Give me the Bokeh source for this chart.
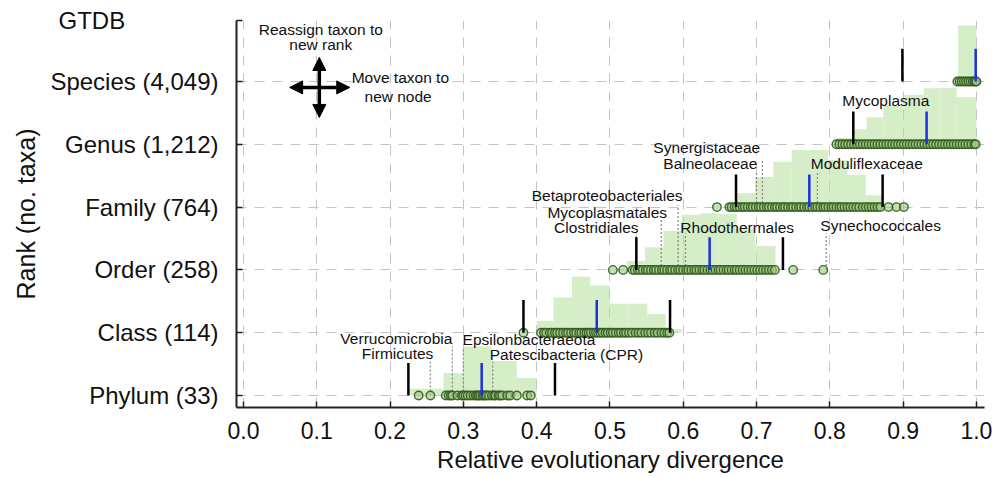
from bokeh.plotting import figure
from bokeh.models import (Range1d, FixedTicker, PrintfTickFormatter, Arrow,
                          NormalHead, ColumnDataSource)
from bokeh.core.properties import value
from bokeh.embed import file_html
from bokeh.resources import INLINE

FONT = "Liberation Sans"

# ---------------- data ----------------
rank_labels = ["Phylum (33)", "Class (114)", "Order (258)", "Family (764)",
               "Genus (1,212)", "Species (4,049)"]
rank_pos = [0, 1, 2, 3, 4, 5]
x_ticks = [0.0, 0.1, 0.2, 0.3, 0.4, 0.5, 0.6, 0.7, 0.8, 0.9, 1.0]
panel_title = "GTDB"

# histogram bin edges and relative heights (fraction of row spacing)
phylum_edges = [0.225, 0.273, 0.300, 0.338, 0.373, 0.400]
phylum_heights = [0.11, 0.36, 0.78, 0.55, 0.28]
class_edges = [0.400, 0.423, 0.448, 0.473, 0.500, 0.525, 0.551, 0.576, 0.598]
class_heights = [0.19, 0.56, 0.89, 0.75, 0.46, 0.46, 0.30, 0.06]
order_edges = [0.523, 0.548, 0.573, 0.598, 0.623, 0.648, 0.673, 0.698, 0.726]
order_heights = [0.14, 0.36, 0.62, 0.88, 0.90, 0.89, 0.65, 0.38]
family_edges = [0.673, 0.698, 0.723, 0.748, 0.773, 0.798, 0.824, 0.849, 0.873]
family_heights = [0.22, 0.48, 0.72, 0.91, 0.91, 0.75, 0.51, 0.19]
genus_edges = [0.808, 0.832, 0.850, 0.873, 0.900, 0.928, 0.951, 0.973, 1.000]
genus_heights = [0.10, 0.24, 0.43, 0.62, 0.79, 0.89, 0.90, 0.75]
species_edges = [0.975, 1.000]
species_heights = [0.89]

# RED values of individual taxa (representative)
phylum_red = [0.239, 0.255, 0.276, 0.280, 0.283, 0.285, 0.292, 0.298, 0.300, 0.303,
              0.306, 0.310, 0.314, 0.317, 0.319, 0.321, 0.323, 0.326, 0.328, 0.330,
              0.332, 0.335, 0.339, 0.342, 0.344, 0.348, 0.350, 0.353, 0.360, 0.364,
              0.373, 0.387, 0.392]
class_red = [0.382, 0.406, 0.410, 0.413, 0.418, 0.421, 0.425, 0.428, 0.432, 0.436,
             0.440, 0.443, 0.447, 0.451, 0.454, 0.458, 0.461, 0.465, 0.468, 0.471,
             0.474, 0.478, 0.481, 0.484, 0.487, 0.490, 0.494, 0.497, 0.501, 0.504,
             0.508, 0.512, 0.515, 0.519, 0.522, 0.526, 0.530, 0.535, 0.539, 0.543,
             0.548, 0.552, 0.556, 0.561, 0.565, 0.570, 0.574, 0.578, 0.581]
order_red = [0.504, 0.518, 0.531, 0.534, 0.538, 0.541, 0.545, 0.549, 0.552, 0.556,
             0.560, 0.563, 0.567, 0.571, 0.574, 0.578, 0.582, 0.585, 0.589, 0.593,
             0.596, 0.600, 0.604, 0.607, 0.611, 0.615, 0.618, 0.622, 0.626, 0.629,
             0.633, 0.637, 0.640, 0.644, 0.648, 0.651, 0.655, 0.659, 0.662, 0.666,
             0.670, 0.673, 0.677, 0.681, 0.685, 0.689, 0.693, 0.697, 0.701, 0.705,
             0.709, 0.713, 0.717, 0.721, 0.725, 0.750, 0.791]
family_red = [0.646, 0.663, 0.666, 0.670, 0.673, 0.677, 0.681, 0.684, 0.688, 0.692,
              0.695, 0.699, 0.703, 0.706, 0.710, 0.714, 0.717, 0.721, 0.725, 0.728,
              0.732, 0.736, 0.739, 0.743, 0.747, 0.750, 0.754, 0.758, 0.761, 0.765,
              0.769, 0.772, 0.776, 0.780, 0.783, 0.787, 0.791, 0.794, 0.798, 0.802,
              0.805, 0.809, 0.813, 0.816, 0.820, 0.824, 0.828, 0.832, 0.836, 0.840,
              0.845, 0.849, 0.853, 0.857, 0.861, 0.865, 0.869, 0.880, 0.891, 0.901]
genus_red = [0.809, 0.813, 0.817, 0.821, 0.825, 0.829, 0.833, 0.837, 0.841, 0.845,
             0.849, 0.853, 0.857, 0.861, 0.865, 0.869, 0.873, 0.877, 0.881, 0.885,
             0.889, 0.893, 0.897, 0.901, 0.905, 0.909, 0.913, 0.917, 0.921, 0.925,
             0.929, 0.933, 0.937, 0.941, 0.945, 0.949, 0.953, 0.957, 0.961, 0.965,
             0.969, 0.973, 0.977, 0.981, 0.985, 0.989, 0.993, 0.997, 0.999]
species_red = [0.974, 0.977, 0.980, 0.983, 0.986, 0.989, 0.992, 0.995, 0.997, 0.999, 1.0]

median_red = [0.325, 0.482, 0.636, 0.772, 0.932, 0.999]
lower_red = [0.225, 0.382, 0.536, 0.672, 0.832, 0.899]
upper_red = [0.425, 0.582, 0.736, 0.872, 1.032, 1.099]

# highlighted taxa
taxa_names = ["Verrucomicrobia", "Firmicutes", "Epsilonbacteraeota", "Patescibacteria (CPR)",
              "Betaproteobacteriales", "Mycoplasmatales", "Clostridiales", "Rhodothermales",
              "Synechococcales", "Synergistaceae", "Balneolaceae", "Moduliflexaceae",
              "Mycoplasma"]
taxa_rank = [0, 0, 0, 0, 2, 2, 2, 2, 2, 3, 3, 3, 4]
taxa_red = [0.285, 0.255, 0.300, 0.340, 0.593, 0.570, 0.536, 0.603, 0.795,
            0.708, 0.700, 0.783, None]

# ---------------- layout (positions of annotation texts) ----------------
label_x = [0.285, 0.259, 0.299, 0.336, 0.599, 0.578, 0.539, 0.596, 0.787,
           0.705, 0.701, 0.774, 0.817]
label_y = [0.905, 0.665, 0.895, 0.650, 3.185, 2.915, 2.675, 2.675, 2.705,
           3.945, 3.690, 3.690, 4.695]
label_align = ["right", "right", "left", "left", "right", "right", "right", "left",
               "left", "right", "right", "left", "left"]
line_top = [0.78, 0.54, 0.76, 0.53, 3.03, 2.83, 2.58, 2.58, 2.58, 3.77, 3.55, 3.55, None]
Y_TOP = 5.97
TITLE_POS = 5.965

# ---------------- figure ----------------
p = figure(width=998, height=477, output_backend="svg", toolbar_location=None,
           x_range=Range1d(-0.0095, 1.011), y_range=Range1d(-0.19, Y_TOP),
           min_border_left=236, min_border_right=14, min_border_top=20,
           min_border_bottom=70)
p.outline_line_color = None
p.background_fill_color = "white"

# grids
p.xgrid.grid_line_color = "#c4c4c4"
p.xgrid.grid_line_dash = "10 8"
p.xgrid.grid_line_width = 1
p.ygrid.ticker = FixedTicker(ticks=rank_pos)
p.ygrid.grid_line_color = "#c4c4c4"
p.ygrid.grid_line_dash = "10 8"
p.ygrid.grid_line_width = 1

# axes
p.xaxis.ticker = FixedTicker(ticks=x_ticks)
p.xaxis.formatter = PrintfTickFormatter(format="%.1f")
p.yaxis.ticker = FixedTicker(ticks=rank_pos + [TITLE_POS])
overrides = {k: lab for k, lab in zip(rank_pos, rank_labels)}
overrides[TITLE_POS] = panel_title + "\u00a0" * 14
p.yaxis.major_label_overrides = overrides
for ax in (p.xaxis, p.yaxis):
    ax.axis_line_width = 2
    ax.axis_line_color = "#222222"
    ax.major_tick_in = 6
    ax.major_tick_out = 0
    ax.major_tick_line_width = 1.5
    ax.major_tick_line_color = "#222222"
    ax.minor_tick_line_color = None
    ax.major_label_text_font = FONT
    ax.axis_label_text_font = FONT
    ax.axis_label_text_font_style = "normal"
    ax.major_label_text_color = "#111111"
    ax.axis_label_text_color = "#111111"
p.xaxis.major_label_text_font_size = "23px"
p.yaxis.major_label_text_font_size = "24px"
p.xaxis.axis_label_text_font_size = "24px"
p.yaxis.axis_label_text_font_size = "25px"
p.xaxis.major_label_standoff = 14
p.yaxis.major_label_standoff = 18
p.xaxis.axis_label = "Relative evolutionary divergence"
p.yaxis.axis_label = "Rank (no. taxa)"
p.xaxis.axis_label_standoff = 4
p.yaxis.axis_label_standoff = 7

# histograms
hist_sets = [(phylum_edges, phylum_heights), (class_edges, class_heights),
             (order_edges, order_heights), (family_edges, family_heights),
             (genus_edges, genus_heights), (species_edges, species_heights)]
left, right, bottom, top = [], [], [], []
for k, (edges, heights) in enumerate(hist_sets):
    for i, h in enumerate(heights):
        left.append(edges[i]); right.append(edges[i + 1])
        bottom.append(rank_pos[k]); top.append(rank_pos[k] + h)
p.quad(left=left, right=right, bottom=bottom, top=top,
       fill_color="#b5e09a", fill_alpha=0.55, line_color=None)

# dotted lines for highlighted taxa
dx, dy0, dy1 = [], [], []
for r, xv, t in zip(taxa_rank, taxa_red, line_top):
    if xv is None or t is None:
        continue
    dx.append(xv); dy0.append(rank_pos[r]); dy1.append(t)
p.segment(x0=dx, y0=dy0, x1=dx, y1=dy1, line_color="#8a8a8a",
          line_dash="2 2", line_width=1.3)

# circles for taxa
all_red = [phylum_red, class_red, order_red, family_red, genus_red, species_red]
cx, cy = [], []
for k, vals in enumerate(all_red):
    cx += vals
    cy += [rank_pos[k]] * len(vals)
p.scatter(cx, cy, size=8.5, marker="circle", fill_color="#9cc97e", fill_alpha=0.6,
          line_color="#325a20", line_alpha=0.9, line_width=1.4)

# bound lines and medians
MARK_H = 0.52
p.segment(x0=lower_red, y0=rank_pos, x1=lower_red, y1=[r + MARK_H for r in rank_pos],
          line_color="black", line_width=2.5)
p.segment(x0=upper_red, y0=rank_pos, x1=upper_red, y1=[r + MARK_H for r in rank_pos],
          line_color="black", line_width=2.5)
p.segment(x0=median_red, y0=rank_pos, x1=median_red, y1=[r + MARK_H for r in rank_pos],
          line_color="#1f2fe0", line_width=2.5)

# taxon labels
for align in ("left", "right"):
    idx = [i for i, a in enumerate(label_align) if a == align]
    src = ColumnDataSource(dict(x=[label_x[i] for i in idx], y=[label_y[i] for i in idx],
                                t=[taxa_names[i] for i in idx]))
    p.text(x="x", y="y", text="t", source=src, text_align=align,
           text_baseline="middle", text_font=value(FONT),
           text_font_size=value("15.5px"), text_color="#111111")

# legend icon: arrows and explanatory text
head = dict(size=13, fill_color="black", line_color="black")
p.add_layout(Arrow(x_start=0.063, y_start=4.905, x_end=0.145, y_end=4.905,
                   start=NormalHead(**head), end=NormalHead(**head),
                   line_width=3.5, line_color="black"))
p.add_layout(Arrow(x_start=0.1035, y_start=4.427, x_end=0.1035, y_end=5.382,
                   start=NormalHead(**head), end=NormalHead(**head),
                   line_width=3.5, line_color="black"))
icon_text = ["Reassign taxon to", "new rank", "Move taxon to", "new node"]
icon_x = [0.1055, 0.1055, 0.214, 0.211]
icon_y = [5.83, 5.59, 5.06, 4.765]
p.text(x=icon_x, y=icon_y, text=icon_text, text_align="center",
       text_baseline="alphabetic", text_font=value(FONT),
       text_font_size=value("15.5px"), text_color="#111111")

open("out.html", "w").write(file_html(p, INLINE))
